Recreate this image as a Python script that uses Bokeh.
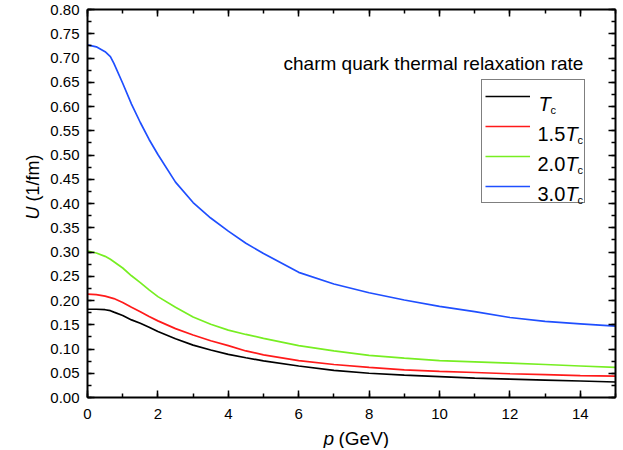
from bokeh.plotting import figure
from bokeh.layouts import row, column
from bokeh.models import (Range1d, LinearAxis, Label, Legend, LegendItem,
                          SingleIntervalTicker, NumeralTickFormatter, CustomJSTickFormatter)
from bokeh.embed import file_html
from bokeh.resources import INLINE
import math

# ---------------- data ----------------
p_gev = [0, 0.25, 0.5, 0.65, 0.75, 1, 1.25, 1.5, 1.75, 2, 2.5, 3, 3.5, 4, 4.5, 5,
         6, 7, 8, 9, 10, 11, 12, 13, 14, 15]
u_tc   = [0.182, 0.182, 0.181, 0.179, 0.176, 0.169, 0.160, 0.153, 0.145, 0.136, 0.121,
          0.108, 0.098, 0.089, 0.082, 0.0755,
          0.065, 0.056, 0.050, 0.046, 0.043, 0.040, 0.038, 0.036, 0.034, 0.032]
u_15tc = [0.213, 0.212, 0.209, 0.206, 0.204, 0.196, 0.186, 0.177, 0.167, 0.158, 0.142,
          0.129, 0.117, 0.107, 0.096, 0.088,
          0.076, 0.068, 0.062, 0.057, 0.054, 0.0515, 0.049, 0.047, 0.045, 0.044]
u_20tc = [0.302, 0.298, 0.291, 0.285, 0.280, 0.267, 0.251, 0.237, 0.222, 0.208, 0.186,
          0.166, 0.151, 0.139, 0.130, 0.122,
          0.107, 0.096, 0.087, 0.081, 0.076, 0.0735, 0.071, 0.068, 0.065, 0.062]
u_30tc = [0.727, 0.723, 0.713, 0.703, 0.689, 0.648, 0.605, 0.567, 0.532, 0.501, 0.444,
          0.402, 0.370, 0.343, 0.318, 0.297,
          0.258, 0.234, 0.216, 0.201, 0.188, 0.177, 0.165, 0.157, 0.152, 0.147]
series_numbers = ["", "1.5", "2.0", "3.0"]
series_colors = ["#000000", "#ff1a1a", "#77ee22", "#1f4fff"]
series_values = [u_tc, u_15tc, u_20tc, u_30tc]
annotation_text = "charm quark thermal relaxation rate"

FONT = "Liberation Sans"

# page geometry (pixels)
YT_W = 46          # width of the strip holding the y title
MAIN_H = 425       # height of the main plot canvas
XT_H = 23          # height of the strip holding the x title
FRAME_L, FRAME_T, FRAME_R, FRAME_B = 87, 11, 615, 397

p = figure(width=620 - YT_W, height=MAIN_H, output_backend="svg", toolbar_location=None,
           x_range=Range1d(0, 15), y_range=Range1d(0, 0.8),
           min_border_left=FRAME_L - YT_W, min_border_right=620 - FRAME_R,
           min_border_top=FRAME_T - 2, min_border_bottom=MAIN_H - FRAME_B)
p.outline_line_color = None
p.xgrid.visible = False
p.ygrid.visible = False
p.background_fill_color = "white"
p.border_fill_color = "white"

xt = SingleIntervalTicker(interval=2, num_minor_ticks=2)
yt = SingleIntervalTicker(interval=0.05, num_minor_ticks=2)


def style(ax, show_labels=True):
    ax.axis_line_width = 2
    ax.axis_line_color = "black"
    ax.major_tick_in = 7
    ax.major_tick_out = 0
    ax.minor_tick_in = 4
    ax.minor_tick_out = 0
    ax.major_tick_line_width = 1.5
    ax.minor_tick_line_width = 1.5
    ax.major_tick_line_color = "black"
    ax.minor_tick_line_color = "black"
    if show_labels:
        ax.major_label_text_font = FONT
        ax.major_label_text_font_size = "15px"
        ax.major_label_text_color = "black"
    else:
        ax.formatter = CustomJSTickFormatter(code="return ''")
        ax.major_label_text_font_size = "1px"
        ax.major_label_standoff = 0


p.xaxis.ticker = xt
p.yaxis.ticker = yt
p.yaxis.formatter = NumeralTickFormatter(format="0.00")
style(p.xaxis[0])
style(p.yaxis[0])
p.xaxis.major_label_standoff = 11
p.yaxis.major_label_standoff = 8

top = LinearAxis(ticker=xt)
right = LinearAxis(ticker=yt)
style(top, False)
style(right, False)
p.add_layout(top, "above")
p.add_layout(right, "right")

renderers = []
for vals, col in zip(series_values, series_colors):
    r = p.line(p_gev, vals, line_color=col, line_width=1.7)
    renderers.append(r)

legend = Legend(items=[LegendItem(label=" ", renderers=[r]) for r in renderers],
                location=(394, 194), glyph_width=45, glyph_height=26, spacing=4,
                padding=3, label_standoff=6, label_width=45, label_height=10,
                label_text_font_size="8px", border_line_color="black",
                border_line_width=1.5, background_fill_alpha=0, margin=0)
p.add_layout(legend)


def lab(fig, text, sx, sy, size, style="normal", angle=0):
    fig.add_layout(Label(x=sx, y=sy, x_units="screen", y_units="screen",
                         text=text, text_font=FONT,
                         text_font_size=size, text_font_style=style,
                         text_color="black", text_align="left",
                         text_baseline="alphabetic", angle=angle))


def lab_main(text, px, py, size, style="normal", angle=0):
    # page pixels -> offsets from the main frame's bottom-left corner
    lab(p, text, px - FRAME_L, FRAME_B - py, size, style, angle)


# legend texts
for i, num in enumerate(series_numbers):
    line_y = 96 + 30 * i
    if num:
        lab_main(num, 537, line_y + 7, "20px")
        tx = 565
    else:
        tx = 538
    lab_main("T", tx, line_y + 7, "20px", "italic")
    lab_main("c", tx + 12, line_y + 13, "11px")

# annotation
lab_main(annotation_text, 283, 63, "19px")


def strip(w, h):
    f = figure(width=w, height=h, output_backend="svg", toolbar_location=None,
               x_axis_location=None, y_axis_location=None, title=None,
               min_border=0, x_range=Range1d(0, 1), y_range=Range1d(0, 1))
    f.outline_line_color = None
    f.xgrid.visible = False
    f.ygrid.visible = False
    f.background_fill_color = "white"
    f.border_fill_color = "white"
    return f


# x title strip (below the main plot)
XT_SHIFT = 45      # observed horizontal offset of the strip's label frame
xs = strip(620 - YT_W, XT_H)
lab(xs, "p", 327 - YT_W - XT_SHIFT, MAIN_H + XT_H - 438, "19px", "italic")
lab(xs, "(GeV)", 342 - YT_W - XT_SHIFT, MAIN_H + XT_H - 438, "19px")

# y title strip (left of the main plot)
ys = strip(YT_W, MAIN_H + XT_H)
lab(ys, "U", 32, MAIN_H + XT_H - 219, "18px", "italic", math.pi / 2)
lab(ys, "(1/fm)", 32, MAIN_H + XT_H - 201, "18px", "normal", math.pi / 2)

layout = row(ys, column(p, xs, spacing=0), spacing=0)

open("out.html", "w").write(file_html(layout, INLINE))
